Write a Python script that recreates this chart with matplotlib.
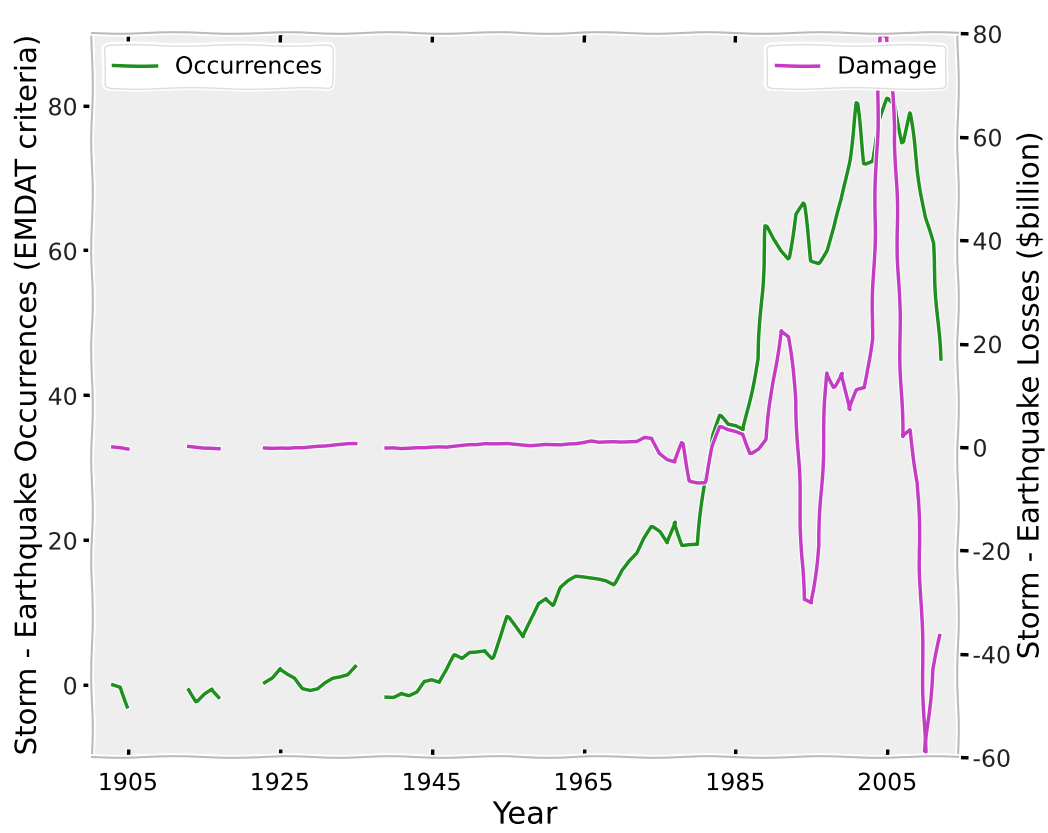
import numpy as np
import matplotlib
matplotlib.use('Agg')
import matplotlib.pyplot as plt

# --- data ---
nan = np.nan
years = list(range(1903, 2013))

occurrences = [
    0.0, -0.3, -3.0,                                        # 1903-1905
    nan, nan, nan, nan, nan, nan, nan,                      # 1906-1912
    -0.7, -2.3, -1.2, -0.5, -1.7,                           # 1913-1917
    nan, nan, nan, nan, nan,                                # 1918-1922
    0.3, 1.0, 2.3, 1.6, 1.0, -0.5, -0.8, -0.6, 0.2, 0.8, 1.0, 1.3, 2.5,  # 1923-1935
    nan, nan, nan,                                          # 1936-1938
    -1.7, -1.7, -1.1, -1.4, -0.9, 0.5, 0.7, 0.3, 2.0, 4.1,  # 1939-1948
    3.6, 4.5, 4.6, 4.8, 3.7, 6.5, 9.4, 8.0, 6.6, 9.0,       # 1949-1958
    11.3, 12.0, 11.0, 13.4, 14.3, 14.9, 14.8, 14.7, 14.6, 14.4,  # 1959-1968
    13.9, 15.9, 17.2, 18.2, 20.2, 21.8, 21.1, 19.6, 22.5, 19.3,  # 1969-1978
    19.4, 19.4, 28.6, 34.5, 37.2, 35.9, 35.7, 35.2, 40.0, 45.0,  # 1979-1988
    63.4, 61.5, 60.0, 58.9, 65.0, 66.5, 58.6, 58.3, 60.0, 63.2,  # 1989-1998
    67.0, 72.4, 80.4, 72.0, 72.4, 77.9, 81.0, 80.0, 74.9, 79.0,  # 1999-2008
    71.0, 64.6, 61.0, 45.0,                                 # 2009-2012
]

damage = [
    0.0, -0.1, -0.3,
    nan, nan, nan, nan, nan, nan, nan,
    0.1, 0.0, -0.1, -0.1, -0.2,
    nan, nan, nan, nan, nan,
    -0.2, -0.2, -0.1, -0.1, 0.0, 0.0, 0.1, 0.2, 0.2, 0.3, 0.4, 0.5, 0.5,
    nan, nan, nan,
    -0.2, -0.1, -0.2, -0.1, 0.0, 0.0, 0.1, 0.1, 0.0, 0.1,
    0.2, 0.3, 0.3, 0.5, 0.5, 0.6, 0.7, 0.6, 0.5, 0.4,
    0.5, 0.6, 0.5, 0.4, 0.5, 0.5, 0.7, 1.0, 0.8, 0.9,
    1.0, 1.0, 1.1, 1.2, 2.0, 1.8, -1.2, -2.5, -3.0, 0.8,
    -6.5, -6.8, -6.8, 0.0, 3.9, 3.3, 3.0, 2.5, -1.2, -0.3,
    1.5, 13.0, 22.5, 21.3, 9.0, -29.5, -30.2, -19.0, 14.3, 11.6,
    14.3, 7.2, 11.0, 11.4, 21.0, 80.0, 79.5, 62.0, 2.0, 3.3,
    -7.0, -59.0, -43.0, -36.5,
]

xticks = [1905, 1925, 1945, 1965, 1985, 2005]
left_ticks = [0, 20, 40, 60, 80]
right_ticks = [-60, -40, -20, 0, 20, 40, 60, 80]

# --- style ---
plt.xkcd(scale=0.8, length=120, randomness=2)
plt.rcParams['font.family'] = ['DejaVu Sans']

fig = plt.figure(figsize=(10.48, 8.33), dpi=100)
ax = fig.add_axes([0.088, 0.091, 0.826, 0.869])
ax.set_facecolor('#eeeeee')
ax2 = ax.twinx()

l1, = ax.plot(years, occurrences, color='#1f8f1f', lw=2.5, label='Occurrences')
l2, = ax2.plot(years, damage, color='#c43cc4', lw=2.5, label='Damage')

ax.set_xlim(1900.3, 2014.3)
ax.set_ylim(-10, 90)
ax2.set_ylim(-60, 80)

ax.set_xticks(xticks)
ax.set_yticks(left_ticks)
ax2.set_yticks(right_ticks)

ax.tick_params(axis='x', direction='in', top=True, length=6, width=2.5,
               labelsize=17, color='black', pad=10)
ax.tick_params(axis='y', direction='out', length=7, width=2.5, labelsize=17,
               color='black', colors='#222222')
ax2.tick_params(axis='y', direction='out', length=7, width=2.5, labelsize=17,
                color='black', colors='#222222')

for a in (ax, ax2):
    for s in a.spines.values():
        s.set_color('#bbbbbb')
        s.set_linewidth(1.5)

ax.set_xlabel('Year', fontsize=22)
ax.set_ylabel('Storm - Earthquake Occurrences (EMDAT criteria)', fontsize=21)
ax2.set_ylabel('Storm - Earthquake Losses ($billion)', fontsize=21)

leg1 = ax.legend(handles=[l1], loc='upper left', fontsize=17, framealpha=1,
                 edgecolor='#dddddd', handlelength=1.8)
leg2 = ax2.legend(handles=[l2], loc='upper right', fontsize=17, framealpha=1,
                  edgecolor='#dddddd', handlelength=1.8)

fig.savefig('out.png', dpi=100)
